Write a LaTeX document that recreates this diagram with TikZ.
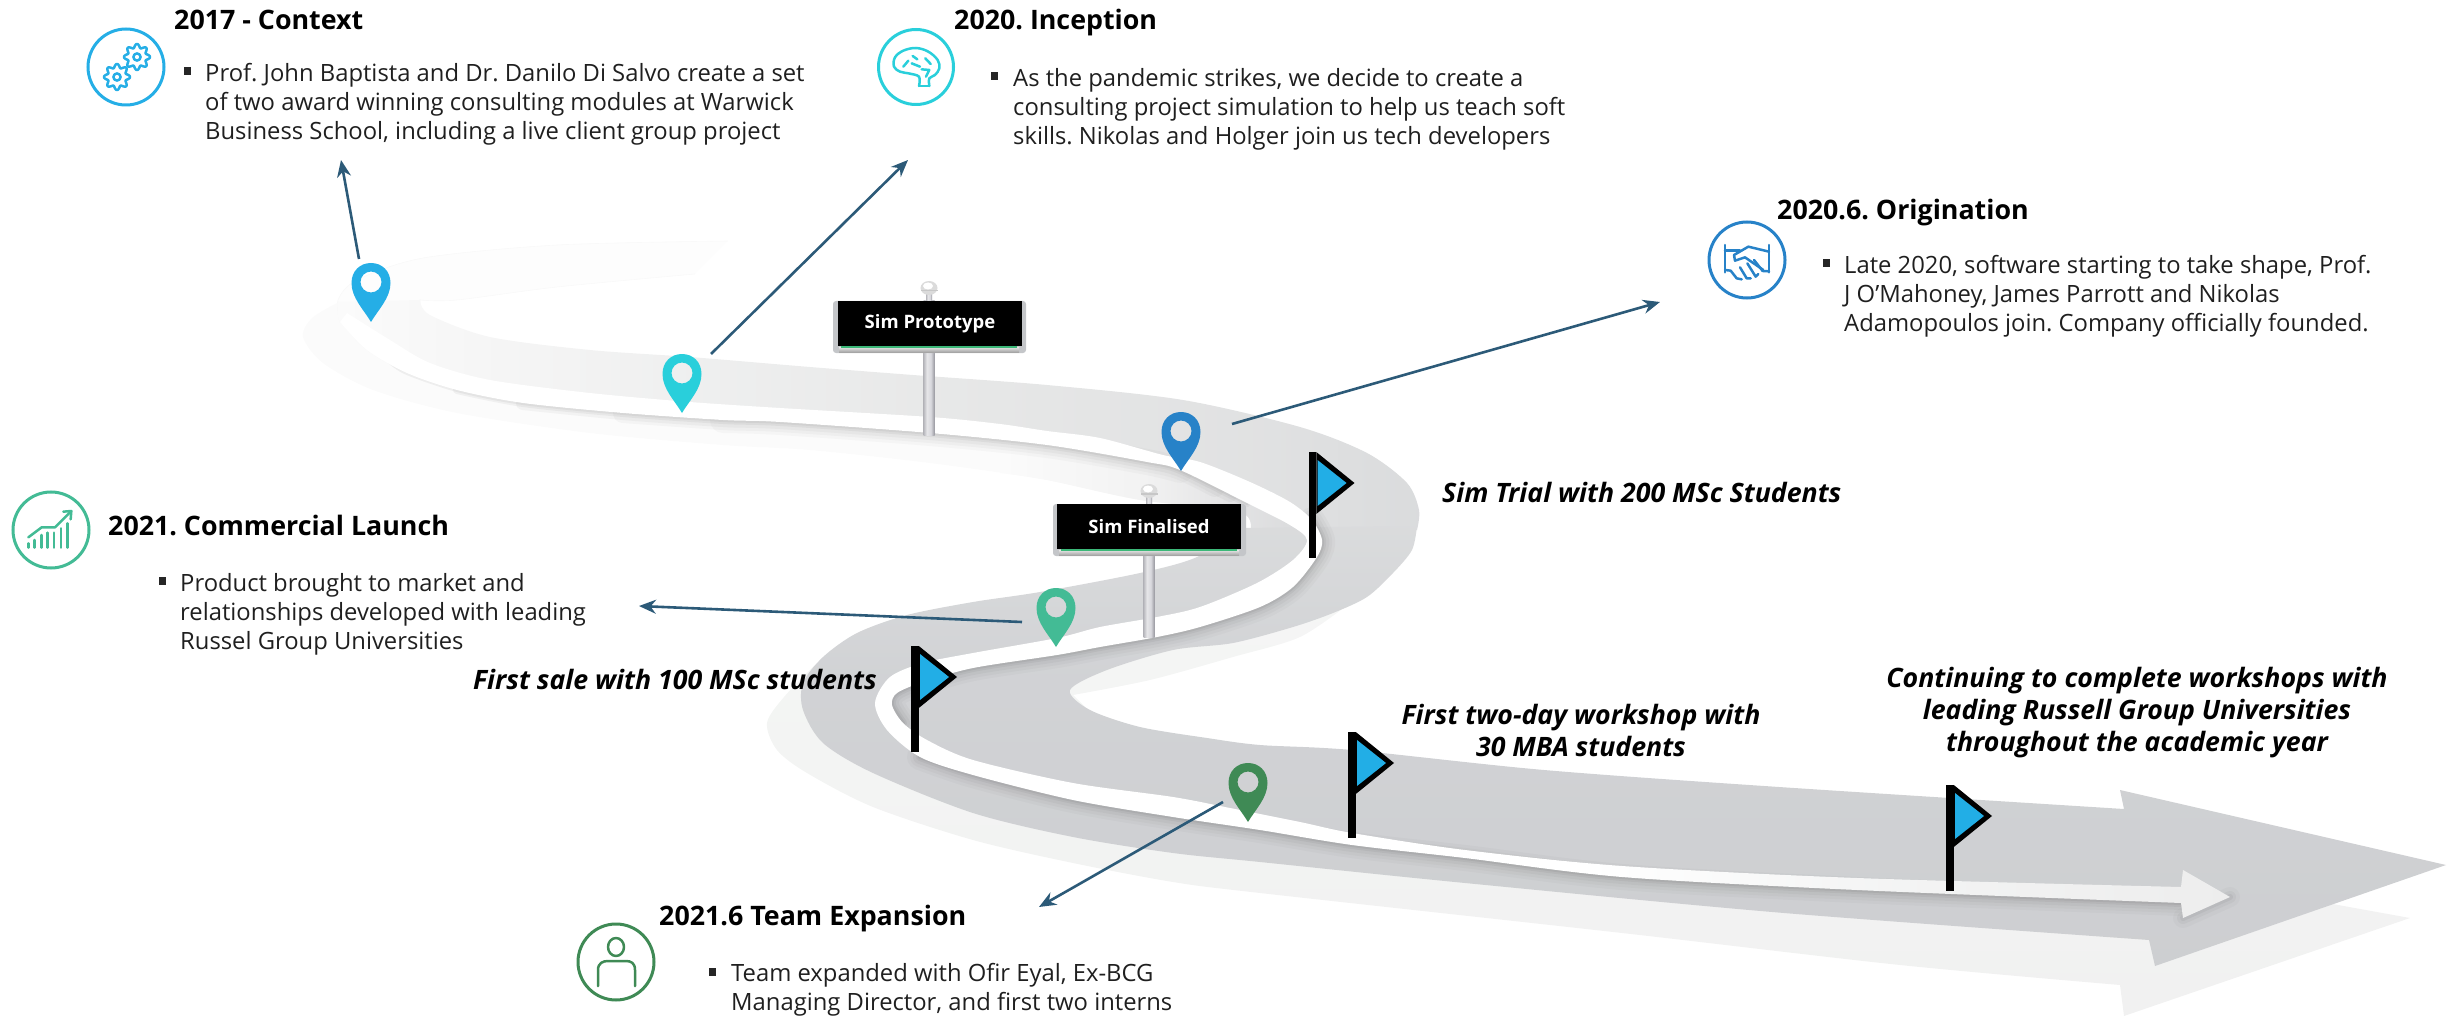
\documentclass[tikz,border=0pt]{standalone}
\usepackage{fontspec}
\setmainfont{Open Sans}
\usetikzlibrary{arrows.meta,shadings}
\frenchspacing
\pgfdeclarehorizontalshading{roadu}{100bp}{rgb(0bp)=(.985,.985,.985);rgb(25bp)=(.985,.985,.985);rgb(33bp)=(.96,.96,.96);rgb(42bp)=(.935,.937,.937);rgb(54bp)=(.905,.908,.908);rgb(68bp)=(.88,.883,.886);rgb(75bp)=(.855,.86,.865);rgb(100bp)=(.855,.86,.865)}
\pgfdeclarehorizontalshading{roadbr}{100bp}{rgb(0bp)=(.985,.985,.985);rgb(25bp)=(.985,.985,.985);rgb(48bp)=(.95,.95,.95);rgb(62bp)=(.89,.89,.895);rgb(75bp)=(.85,.855,.86);rgb(100bp)=(.85,.855,.86)}
\pgfdeclareverticalshading{roadg}{100bp}{rgb(0bp)=(.805,.81,.82);rgb(25bp)=(.805,.81,.82);rgb(58bp)=(.82,.825,.835);rgb(75bp)=(.855,.86,.865);rgb(100bp)=(.855,.86,.865)}
\pgfdeclareverticalshading{roadl}{100bp}{rgb(0bp)=(.945,.945,.945);rgb(25bp)=(.945,.945,.945);rgb(60bp)=(.955,.96,.955);rgb(75bp)=(.965,.965,.965);rgb(100bp)=(.965,.965,.965)}
\pgfdeclarehorizontalshading{roads}{100bp}{rgb(0bp)=(1,1,1);rgb(25bp)=(1,1,1);rgb(58bp)=(1,1,1);rgb(66bp)=(.955,.957,.957);rgb(75bp)=(.93,.93,.93);rgb(100bp)=(.93,.93,.93)}
\pgfdeclarehorizontalshading{polesh}{100bp}{rgb(0bp)=(.72,.72,.74);rgb(25bp)=(.72,.72,.74);rgb(40bp)=(.9,.9,.91);rgb(58bp)=(.85,.85,.87);rgb(75bp)=(.6,.6,.63);rgb(100bp)=(.6,.6,.63)}
\definecolor{arrowcol}{HTML}{2C5A78}
\definecolor{pinA}{HTML}{25AEE6}
\definecolor{pinB}{HTML}{29CFDB}
\definecolor{pinC}{HTML}{2782C8}
\definecolor{pinD}{HTML}{43BB95}
\definecolor{pinE}{HTML}{3F8A55}
\definecolor{flagblue}{HTML}{22AEE6}
\definecolor{signback}{HTML}{C4C6C9}
\definecolor{signgreen}{HTML}{3CB878}
\tikzset{
  pointer/.style={draw=arrowcol,line width=2.6pt,-{Stealth[length=17pt,width=14pt]}},
  titletext/.style={anchor=west,inner sep=0pt,text height=24pt,text depth=6pt,font=\fontsize{26.8}{30}\selectfont\bfseries,text=black},
  bodytext/.style={anchor=west,inner sep=0pt,align=left,font=\fontsize{23.8}{29}\selectfont,text=black!88},
  milestone/.style={inner sep=0pt,align=center,font=\fontsize{26.7}{32}\selectfont\bfseries\itshape,text=black},
  signbox/.style={fill=black,text=white,inner sep=0pt,minimum width=184pt,minimum height=45pt,font=\fontsize{18.5}{22}\selectfont\bfseries},
  ring/.style={draw,line width=3pt},
  iconline/.style={line width=2.5pt,line cap=round,line join=round},
  softshade/.style={black!70,line cap=round},
}
\newcommand\pinmark[3]{\fill[#3,even odd rule,shift={(#1,#2)}] (0,0) .. controls (-7,-12) and (-19.5,-24) .. (-19.5,-39) .. controls (-19.5,-51) and (-11,-59) .. (0,-59) .. controls (11,-59) and (19.5,-51) .. (19.5,-39) .. controls (19.5,-24) and (7,-12) .. (0,0) (0,-40) circle[radius=10.5];}
\newcommand\flagmark[2]{%
  \fill[black] (#1-3.8,#2) rectangle (#1+3.8,#2+106);
  \fill[black] (#1+3.8,#2) -- (#1+42,#2+31) -- (#1+3.8,#2+62) -- cycle;
  \fill[flagblue] (#1+5,#2+8) -- (#1+34,#2+31) -- (#1+5,#2+54) -- cycle;}
\newcommand\signpost[3]{%
  \shade[shading=polesh] (#1-5.5,#2) rectangle (#1+5.5,#3);
  \shade[shading=polesh] (#1-3,#2-12) rectangle (#1+3,#2);
  \fill[black!14] (#1,#2-13) ellipse[x radius=8.5,y radius=7];
  \fill[white] (#1-1,#2-15) ellipse[x radius=5,y radius=3.5];
  \fill[black!22] (#1-8.5,#2-11) rectangle (#1+8.5,#2-9.5);
  \fill[signback,rounded corners=3pt] (#1-96,#2) rectangle (#1+97,#2+52);
  \shade[top color=white!90!black,bottom color=black!35] (#1-90,#2+46) rectangle (#1+90,#2+51);
  \fill[signgreen] (#1-88,#2+45) rectangle (#1+88,#2+47);}
\newcommand\gearmark[2]{%
  \draw[iconline,pinA] plot[smooth cycle,domain=0:355,samples=72] ({#1+(11.2+1.9*cos(8*\x))*cos(\x)},{#2+(11.2+1.9*cos(8*\x))*sin(\x)});
  \draw[iconline,pinA] (#1,#2) circle[radius=3.6];}
\newcommand\bulletmark[2]{\fill[black!85] (#1-3.5,#2-4) rectangle (#1+3.5,#2+4);}
\begin{document}
\begin{tikzpicture}[x=1pt,y=-1pt]
\useasboundingbox (0,0) rectangle (2458,1016);

% ---- light under-ribbon, upper part
\fill[black!1.5] plot[smooth,tension=.5] coordinates {(337,303)(312,318)(303,337)(323,363)(373,390)(457,413)(590,433)(723,445)(810,450)(930,463)(1047,480)(1140,500)(1240,512)} -- (1250,470) -- (1000,420) -- (500,360) -- cycle;
% ---- light under-ribbon, lower part
\shade[shading=roadl] plot[smooth,tension=.5] coordinates {(1350,603)(1300,637)(1233,657)(1150,680)(1073,695)} -- (1090,712) -- (1300,780) -- (2200,880) -- (2410,918) -- (2124,1016) -- (2120,985) -- plot[smooth,tension=.5] coordinates {(2120,985)(1900,965)(1622,933)(1260,893)(1173,882)(1073,863)(973,840)(873,807)(807,773)(777,750)(767,723)(784,697)(815,665)} -- (1000,620) -- (1300,560) -- cycle;

% ---- faint far end of the road
\filldraw[fill=black!0.7,draw=black!2.5,line width=.6pt] plot[smooth,tension=.5] coordinates {(728,241)(557,245)(423,258)(357,280)(338,300)(340,322)} -- (420,330) -- plot[smooth,tension=.5] coordinates {(420,300)(457,300)(557,287)(695,274)};
% ---- upper road surface
\shade[shading=roadu] plot[smooth,tension=.5] coordinates {(338,302)(340,322)(367,350)(407,373)(457,390)(523,403)(623,413)(723,420)(780,422)(930,433)(1047,445)(1147,462)(1180,470)(1247,503)(1290,525)(1307,540)} -- (1417,530) -- plot[smooth,tension=.5] coordinates {(1417,530)(1419,510)(1407,483)(1367,453)(1300,427)(1183,400)(1047,385)(913,375)(810,367)(690,357)(590,350)(490,337)(430,315)(420,300)} -- cycle;
% ---- patch below the stripe toward the right bend
\shade[shading=roadbr] plot[smooth,tension=.5] coordinates {(1000,473)(1047,480)(1140,500)(1240,512)(1250,532)} -- (1312,545) -- plot[smooth,tension=.5] coordinates {(1307,540)(1290,525)(1247,503)(1180,470)(1147,462)(1047,445)(1000,440)} -- cycle;
% ---- main gray ribbon and arrow
\shade[shading=roadg] (1240,528) -- (1417,526) -- plot[smooth,tension=.5] coordinates {(1417,526)(1412,550)(1393,573)(1367,597)(1333,613)(1293,627)(1233,643)(1173,650)(1107,670)(1070,690)(1090,710)(1140,727)(1207,738)(1260,745)(1352,750)(1544,770)(1779,787)(2124,809)} -- (2120,790) -- (2446,865) -- (2155,966) -- (2149,940) -- plot[smooth,tension=.5] coordinates {(2149,940)(1784,913)(1465,883)(1260,862)(1173,853)(1073,837)(973,813)(873,773)(823,743)(803,710)(803,683)(823,657)(857,633)(907,615)(973,602)(1040,592)(1140,573)(1197,557)(1240,528)} -- cycle;

% ---- soft shadows along the stripe (tapered: wider strokes start later)
\draw[softshade,opacity=.07,line width=4pt] plot[smooth,tension=.5] coordinates {(390,362)(407,373)(457,390)(523,403)(623,413)(723,420)(780,422)(930,433)(1047,445)(1147,462)(1180,470)(1247,503)};
\draw[softshade,opacity=.06,line width=8pt] plot[smooth,tension=.5] coordinates {(457,390)(523,403)(623,413)(723,420)(780,422)(930,433)(1047,445)(1147,462)(1180,470)(1247,503)};
\draw[softshade,opacity=.05,line width=14pt] plot[smooth,tension=.5] coordinates {(523,403)(623,413)(723,420)(780,422)(930,433)(1047,445)(1147,462)(1180,470)(1230,495)};
\draw[softshade,opacity=.04,line width=20pt] plot[smooth,tension=.5] coordinates {(623,413)(723,420)(780,422)(930,433)(1047,445)(1147,462)(1180,470)(1215,487)};
\draw[softshade,opacity=.03,line width=26pt] plot[smooth,tension=.5] coordinates {(723,420)(780,422)(930,433)(1047,445)(1147,462)(1180,470)};
\foreach \w/\o in {26/.035,20/.04,14/.05,8/.07,4/.09}{
  \draw[softshade,opacity=\o,line width=\w pt] plot[smooth,tension=.5] coordinates {(1312,520)(1322,540)(1317,557)(1293,587)(1260,607)(1200,627)(1157,637)(1100,647)(1057,655)(973,668)(923,682)(897,693)(892,705)(903,723)};
  \draw[softshade,opacity=\o,line width=\w pt] plot[smooth,tension=.5] coordinates {(920,757)(973,775)(1073,800)(1173,817)(1260,830)(1352,845)(1465,858)(1622,877)(1857,890)(2181,903)};
}
\foreach \w/\o in {20/.03,12/.05,6/.07}{
  \draw[softshade,opacity=\o,line width=\w pt] (2183,918) -- (2230,897);
}
% ---- white stripe
\shade[shading=roads] plot[smooth,tension=.5] coordinates {(347,313)(390,340)(430,363)(490,380)(590,393)(690,402)(780,408)(930,417)(1000,424)(1047,431)(1100,438)(1163,455)(1200,462)(1250,482)(1290,502)(1312,520)(1322,540)(1317,557)(1293,587)(1260,607)(1200,627)(1157,637)(1100,647)(1057,655)(973,668)(923,682)(897,693)(892,705)(903,723)(927,740)(973,760)(1073,783)(1173,797)(1230,808)(1300,822)(1352,833)(1465,850)(1622,866)(1857,878)(2181,887)} -- (2183,870) -- (2230,897) -- (2183,918) -- plot[smooth,tension=.5] coordinates {(2181,903)(1857,890)(1622,877)(1465,858)(1352,845)(1260,830)(1173,817)(1073,800)(973,775)(920,757)(887,730)(875,703)(890,677)(923,663)(973,653)(1057,638)(1100,627)(1157,617)(1200,607)(1257,583)(1293,560)(1307,540)(1290,525)(1247,503)(1180,470)(1147,462)(1047,445)(930,433)(780,422)(723,420)(623,413)(523,403)(457,390)(407,373)(367,350)(340,322)} -- cycle;

% ---- signs
\signpost{929}{301}{435}
\node[signbox] (signA) at (930,323.5) {Sim Prototype};
\signpost{1149}{504}{637}
\node[signbox] (signB) at (1149,526.5) {Sim Finalised};

% ---- pins
\pinmark{371}{322}{pinA}
\pinmark{682}{413}{pinB}
\pinmark{1181}{471}{pinC}
\pinmark{1056}{647}{pinD}
\pinmark{1248}{822}{pinE}

% ---- flags
\flagmark{1312.5}{452}
\flagmark{915}{646}
\flagmark{1352}{732}
\flagmark{1950}{785}

% ---- pointers
\coordinate (ptrAs) at (359,259); \coordinate (ptrAe) at (341,160);
\coordinate (ptrBs) at (711,354); \coordinate (ptrBe) at (908,160);
\coordinate (ptrCs) at (1232,424); \coordinate (ptrCe) at (1660,302);
\coordinate (ptrDs) at (1022,622); \coordinate (ptrDe) at (639,606);
\coordinate (ptrEs) at (1223,802); \coordinate (ptrEe) at (1039,907);
\draw[pointer] (ptrAs) -- (ptrAe);
\draw[pointer] (ptrBs) -- (ptrBe);
\draw[pointer] (ptrCs) -- (ptrCe);
\draw[pointer] (ptrDs) -- (ptrDe);
\draw[pointer] (ptrEs) -- (ptrEe);

% ---- icon 1: gears
\node[ring,draw=pinA,circle,minimum size=76pt,inner sep=0pt] (iconA) at (126,67) {};
\gearmark{137}{57}
\gearmark{117}{77}

% ---- icon 2: brain
\node[ring,draw=pinB,circle,minimum size=75pt,inner sep=0pt] (iconB) at (916,67) {};
\begin{scope}[shift={(840,20)},scale=.3333,iconline,draw=pinB]
  \draw plot[smooth,tension=.6] coordinates {(237,198)(237,170)(205,160)(180,155)(162,140)(165,112)(190,92)(228,84)(265,95)(293,120)(298,145)(285,165)(268,175)(268,198)};
  \draw (237,198) -- (268,198);
  \draw (190,140) -- (205,122);
  \draw (218,108) -- (232,118);
  \draw (215,130) -- (240,140);
  \draw (256,115) -- (272,132);
  \draw (245,148) -- (268,150) -- (258,170);
\end{scope}

% ---- icon 3: handshake
\node[ring,draw=pinC,circle,minimum size=76pt,inner sep=0pt] (iconC) at (1747,260) {};
\begin{scope}[shift={(1690,210)},scale=.3333,iconline,draw=pinC]
  \draw (105,105) -- (105,187);
  \draw (237,105) -- (237,187);
  \draw (105,122) -- (150,122);
  \draw (237,125) -- (175,110) -- (132,135) -- (135,152) -- (165,142) -- (220,180);
  \draw (105,180) -- (122,182) -- (140,205) -- (155,208);
  \draw (150,172) -- (170,205) -- (182,205);
  \draw (172,160) -- (197,200) -- (205,192);
  \draw (192,150) -- (218,183);
  \draw (237,184) -- (218,183);
\end{scope}

% ---- icon 4: chart
\node[ring,draw=pinD,circle,minimum size=76pt,inner sep=0pt] (iconD) at (51,530) {};
\begin{scope}[shift={(0,480)},scale=.3333,iconline,draw=pinD]
  \draw (85,203) -- (85,190);
  \draw (103,203) -- (103,180);
  \draw (124,203) -- (124,165);
  \draw (143,203) -- (143,158);
  \draw (162,203) -- (162,158);
  \draw (183,203) -- (183,145);
  \draw (203,203) -- (203,130);
  \draw (85,172) -- (125,142) -- (165,142) -- (212,95);
  \draw (190,95) -- (214,93) -- (212,118);
\end{scope}

% ---- icon 5: person
\node[ring,draw=pinE,circle,minimum size=76pt,inner sep=0pt] (iconE) at (616,962) {};
\draw[iconline,pinE] (616,947) ellipse[x radius=8,y radius=9];
\draw[iconline,pinE] (598,986) -- (598,970) .. controls (598,963) and (603,961) .. (608,961) -- (626,961) .. controls (631,961) and (635,963) .. (635,970) -- (635,986);

% ---- text
\node[titletext] (titleA) at (174,21) {2017 - Context};
\bulletmark{187}{71}
\node[bodytext] (bodyA) at (205,104) {Prof. John Baptista and Dr. Danilo Di Salvo create a set\\of two award winning consulting modules at Warwick\\Business School, including a live client group project};

\node[titletext] (titleB) at (954,21) {2020. Inception};
\bulletmark{994}{76}
\node[bodytext] (bodyB) at (1013,109) {As the pandemic strikes, we decide to create a\\consulting project simulation to help us teach soft\\skills. Nikolas and Holger join us tech developers};

\node[titletext] (titleC) at (1777,211) {2020.6. Origination};
\bulletmark{1826}{263}
\node[bodytext] (bodyC) at (1844,296) {Late 2020, software starting to take shape, Prof.\\J O’Mahoney, James Parrott and Nikolas\\Adamopoulos join. Company officially founded.};

\node[titletext] (titleD) at (108,526) {2021. Commercial Launch};
\bulletmark{162}{581}
\node[bodytext] (bodyD) at (180,614) {Product brought to market and\\relationships developed with leading\\Russel Group Universities};

\node[titletext] (titleE) at (659,916) {2021.6 Team Expansion};
\bulletmark{712}{972}
\node[bodytext] (bodyE) at (731,990) {Team expanded with Ofir Eyal, Ex-BCG\\Managing Director, and first two interns};

\node[milestone,anchor=west] (mileA) at (1442,492) {Sim Trial with 200 MSc Students};
\node[milestone,anchor=east] (mileB) at (877,679) {First sale with 100 MSc students};
\node[milestone] (mileC) at (1581,730) {First two-day workshop with\\30 MBA students};
\node[milestone] (mileD) at (2137,713) {Continuing to complete workshops with\\leading Russell Group Universities\\throughout the academic year};
\end{tikzpicture}
\end{document}
